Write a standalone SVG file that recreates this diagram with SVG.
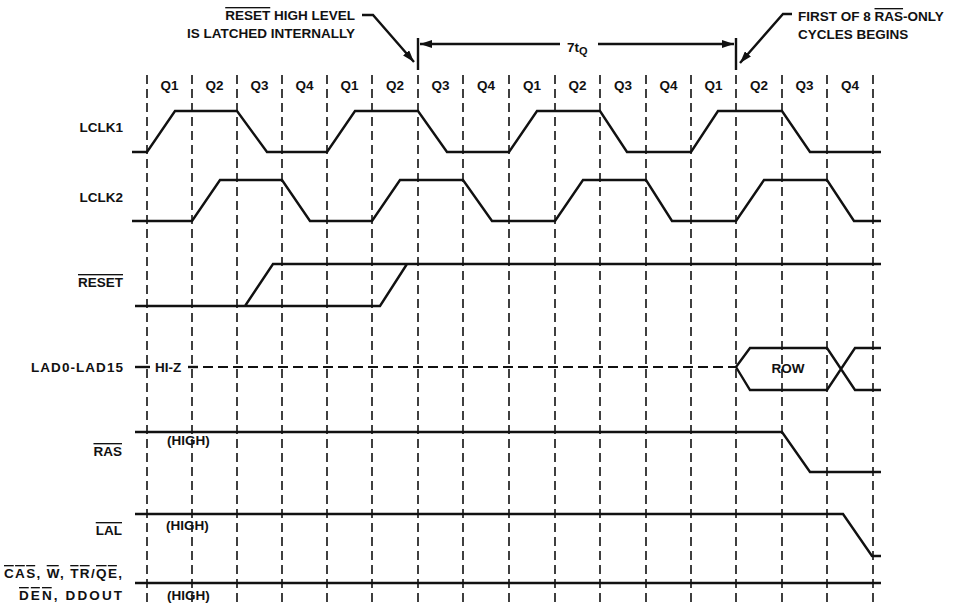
<svg xmlns="http://www.w3.org/2000/svg" width="974" height="604" viewBox="0 0 974 604">
<style>
text{font-family:"Liberation Sans",Arial,sans-serif;font-weight:bold;fill:#111;}
.lbl{font-size:13.5px;text-anchor:end;}
.q{font-size:13.5px;text-anchor:middle;}
.note{font-size:13.5px;}
.hi{font-size:13.5px;}
.grid{stroke:#111;stroke-width:1.6;stroke-dasharray:9 5;fill:none;}
.wave{stroke:#111;stroke-width:2.4;fill:none;stroke-linejoin:miter;}
.dash{stroke:#111;stroke-width:2;stroke-dasharray:10 5;fill:none;}
.ol{text-decoration:overline;}
</style>
<defs>
<marker id="ah" viewBox="0 0 12 8" refX="12" refY="4" markerWidth="12" markerHeight="8" markerUnits="userSpaceOnUse" orient="auto">
<path d="M0,0 L12,4 L0,8 Z" fill="#111"/>
</marker>
</defs>
<rect width="974" height="604" fill="#fff"/>
<g id="grid">
<path class="grid" d="M147,75V602M192,75V602M237,75V602M282,75V602M327,75V602M372,75V602M418,75V602M463,75V602M509,75V602M555,75V602M600,75V602M646,75V602M691,75V602M736,75V602M782,75V602M827,75V602M873,75V602"/>
</g>
<g id="quarters">
<text class="q" x="169.5" y="90">Q1</text>
<text class="q" x="214.5" y="90">Q2</text>
<text class="q" x="259.5" y="90">Q3</text>
<text class="q" x="304.5" y="90">Q4</text>
<text class="q" x="349.5" y="90">Q1</text>
<text class="q" x="395" y="90">Q2</text>
<text class="q" x="440.5" y="90">Q3</text>
<text class="q" x="486" y="90">Q4</text>
<text class="q" x="532" y="90">Q1</text>
<text class="q" x="577.5" y="90">Q2</text>
<text class="q" x="623" y="90">Q3</text>
<text class="q" x="668.5" y="90">Q4</text>
<text class="q" x="713.5" y="90">Q1</text>
<text class="q" x="759" y="90">Q2</text>
<text class="q" x="804.5" y="90">Q3</text>
<text class="q" x="850" y="90">Q4</text>
</g>
<g id="labels">
<text class="lbl" x="123" y="132">LCLK1</text>
<text class="lbl" x="123" y="202">LCLK2</text>
<text class="lbl" x="123" y="287"><tspan class="ol">RESET</tspan></text>
<text class="lbl" x="123" y="372" textLength="92" lengthAdjust="spacing">LAD0-LAD15</text>
<text class="lbl" x="122" y="456"><tspan class="ol">RAS</tspan></text>
<text class="lbl" x="122" y="535"><tspan class="ol">LAL</tspan></text>
<text class="lbl" x="122" y="578" textLength="118" lengthAdjust="spacing"><tspan class="ol">CAS</tspan>, <tspan class="ol">W</tspan>, <tspan class="ol">TR</tspan>/<tspan class="ol">QE</tspan>,</text>
<text class="lbl" x="122" y="600" textLength="103" lengthAdjust="spacing"><tspan class="ol">DEN</tspan>, DDOUT</text>
</g>
<g id="lclk1"><path class="wave" d="M132,152H147L175,111H237L267,152H327L355,111H418L447,152H509L537,111H600L627,152H691L718,111H782L810,152H881"/></g>
<g id="lclk2"><path class="wave" d="M132,221H192L220,180H282L310,221H372L400,180H463L492,221H555L583,180H646L672,221H736L764,180H827L854,221H881"/></g>
<g id="reset"><path class="wave" d="M135,306H380L407,264M245,306L273,264H881"/></g>
<g id="lad">
<path class="wave" d="M135,367H150"/>
<text class="hi" x="155" y="372">HI-Z</text>
<path class="wave" d="M188,367H198"/>
<path class="dash" d="M203,367H736"/>
<path class="wave" d="M736,367L750,348H827L855,390H881M736,367L750,390H827L855,348H881"/>
<text class="hi" x="788" y="373" text-anchor="middle">ROW</text>
</g>
<g id="ras">
<path class="wave" d="M135,432H782L810,472H881"/>
<text class="hi" x="167" y="445">(HIGH)</text>
</g>
<g id="lal">
<path class="wave" d="M135,514H843L872,556H881"/>
<text class="hi" x="166" y="530">(HIGH)</text>
</g>
<g id="cas">
<path class="wave" d="M135,583H881"/>
<text class="hi" x="167" y="600">(HIGH)</text>
</g>
<g id="annotations">
<text class="note" x="355" y="20" text-anchor="end"><tspan class="ol">RESET</tspan> HIGH LEVEL</text>
<text class="note" x="355" y="38" text-anchor="end">IS LATCHED INTERNALLY</text>
<text class="note" x="798" y="21">FIRST OF 8 <tspan class="ol">RAS</tspan>-ONLY</text>
<text class="note" x="798" y="39">CYCLES BEGINS</text>
<text class="note" x="567" y="52" font-size="14">7t<tspan font-size="11" dy="3">Q</tspan></text>
</g>
<g id="connectors">
<path class="wave" d="M418,38V70M736,38V70"/>
<path class="wave" stroke-width="2" d="M560,44H420" marker-end="url(#ah)"/>
<path class="wave" stroke-width="2" d="M598,44H734" marker-end="url(#ah)"/>
<path class="wave" stroke-width="2" d="M362,15H373L414,62" marker-end="url(#ah)"/>
<path class="wave" stroke-width="2" d="M792,14H783L740,63" marker-end="url(#ah)"/>
</g>
</svg>
